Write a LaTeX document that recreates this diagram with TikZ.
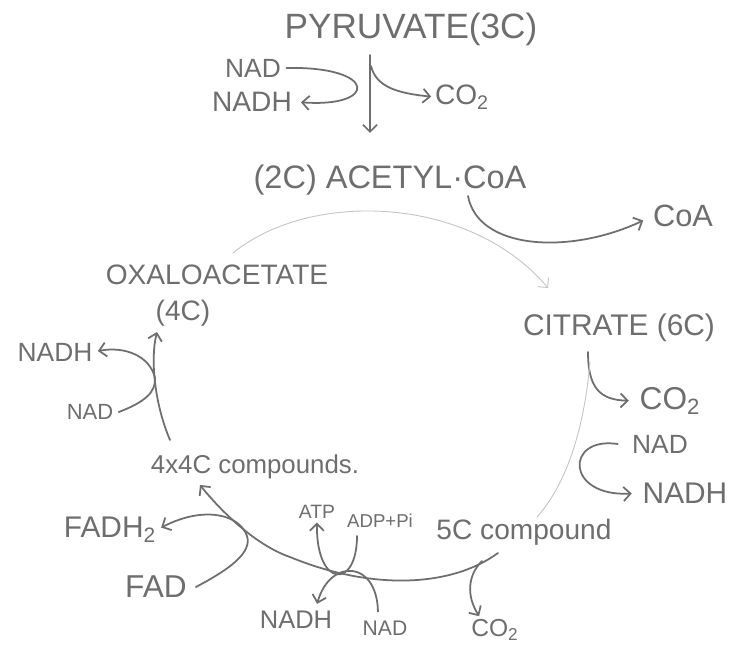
\documentclass[tikz,border=0pt]{standalone}
\usepackage{fontspec}
\setmainfont{Liberation Sans}
\usetikzlibrary{arrows.meta}
\definecolor{pencil}{HTML}{6E6E6E}
\definecolor{faint}{HTML}{C4C4C4}
\tikzset{
    lbl/.style={text=pencil, inner sep=0pt, anchor=center},
    stroke/.style={draw=pencil, line width=1pt, line cap=round},
    faint stroke/.style={draw=faint, line width=0.5pt, line cap=round},
    >={Straight Barb[length=4pt,width=8pt]}
}
\begin{document}
\begin{tikzpicture}[x=0.02cm, y=-0.02cm]
        \fill[white] (0,0) rectangle (734,648);
        \useasboundingbox (0,0) rectangle (734,648);

        % the labels, written where the hand wrote them
        \foreach \v/\x/\y/\s/\t in
        {   pyr/411/29/20/{PYRUVATE(3C)},
            nadA/253/68/15/{NAD},
            nadhA/252/102/16/{NADH},
            co2A/462/97/16/{CO\textsubscript{2}},
            acet/390/180/18.5/{(2C) ACETYL·CoA},
            coa/683/216/17.5/{CoA},
            oxa/217/275/16/{OXALOACETATE},
            oxc/183/313/16/{(4C)},
            cit/619/328/17/{CITRATE (6C)},
            co2B/670/401/18/{CO\textsubscript{2}},
            nadR/660/444/15/{NAD},
            nadhR/685/493/17/{NADH},
            nadhL/55/352/15/{NADH},
            nadL/90/412/12.5/{NAD},
            fc/255/467/14.7/{4x4C compounds.},
            fadh/110/530/17/{FADH\textsubscript{2}},
            fad/156/587/18/{FAD},
            atp/317/512/11/{ATP},
            adp/380/521/10.6/{ADP+Pi},
            fivec/524/532/16/{5C compound},
            nadhB/296/620/14.5/{NADH},
            nadB/385/628/12/{NAD},
            co2C/495/630/14/{CO\textsubscript{2}}
        }
        {
            \node[lbl, font=\fontsize{\s}{\s}\selectfont] (\v) at (\x,\y) {\t};
        };

        \coordinate (pyrOut) at (370,55);
        \coordinate (pyrIn) at (370,133);
        \coordinate (pyrFork) at (371,66);
        \coordinate (acOut) at (468,196);
        \coordinate (oxOut) at (233,253);
        \coordinate (citIn) at (548,288);
        \coordinate (citOut) at (588,352);
        \coordinate (cycR) at (590,362);
        \coordinate (cycB) at (537,517);
        \coordinate (fcOut) at (498,553);
        \coordinate (bend) at (290,557);
        \coordinate (fcIn) at (200,485);
        \coordinate (oxFrom) at (170,440);
        \coordinate (oxIn) at (157,332);
        \coordinate (adpOut) at (357,536);
        \coordinate (co2Out) at (482,561);

        \draw[stroke,->] (pyrOut) -- (pyrIn);
        \draw[stroke,->,shorten >=2pt] (pyrFork) .. controls (376,86) and (395,93) .. (co2A.west);
        \draw[stroke,->,shorten >=2pt] ([xshift=3pt]nadA.east) .. controls (378,66) and (378,108) .. ([xshift=3pt]nadhA.east);

        \draw[stroke,->,shorten >=6pt] (acOut) .. controls (478,250) and (570,255) .. (coa.west);
        \draw[faint stroke,->] (oxOut) .. controls (310,190) and (470,195) .. (citIn);

        \draw[stroke,->,shorten >=6pt] (citOut) .. controls (588,388) and (600,400) .. (co2B.west);
        \draw[stroke,->,shorten >=6pt] ([xshift=-8pt]nadR.west) .. controls (565,436) and (565,497) .. (nadhR.west);
        \draw[faint stroke] (cycR) .. controls (585,420) and (570,480) .. (cycB);

        \draw[stroke,->] (fcOut) .. controls (450,588) and (370,590) .. (bend)
            .. controls (255,545) and (220,510) .. (fcIn);
        \draw[stroke,->,shorten >=2pt] (co2Out) .. controls (468,575) and (466,595) .. ([xshift=-8pt]co2C.north);

        \draw[stroke,->] (oxFrom) .. controls (155,405) and (150,360) .. (oxIn);
        \draw[stroke,->,shorten >=3pt] ([xshift=3pt]nadL.east) .. controls (145,402) and (156,392) .. (155,378)
            .. controls (150,356) and (125,346) .. (nadhL.east);

        \draw[stroke,->,shorten >=3pt] ([xshift=5pt]fad.east) .. controls (232,568) and (252,552) .. (247,536)
            .. controls (240,515) and (205,505) .. (fadh.east);
        \draw[stroke,->,shorten >=2pt] (adpOut) .. controls (357,590) and (316,588) .. (atp.south);
        \draw[stroke,->] ([xshift=-4pt,yshift=5pt]nadB.north) .. controls (377,560) and (330,558) .. ([xshift=12pt,yshift=4pt]nadhB.north);
\end{tikzpicture}
\end{document}
